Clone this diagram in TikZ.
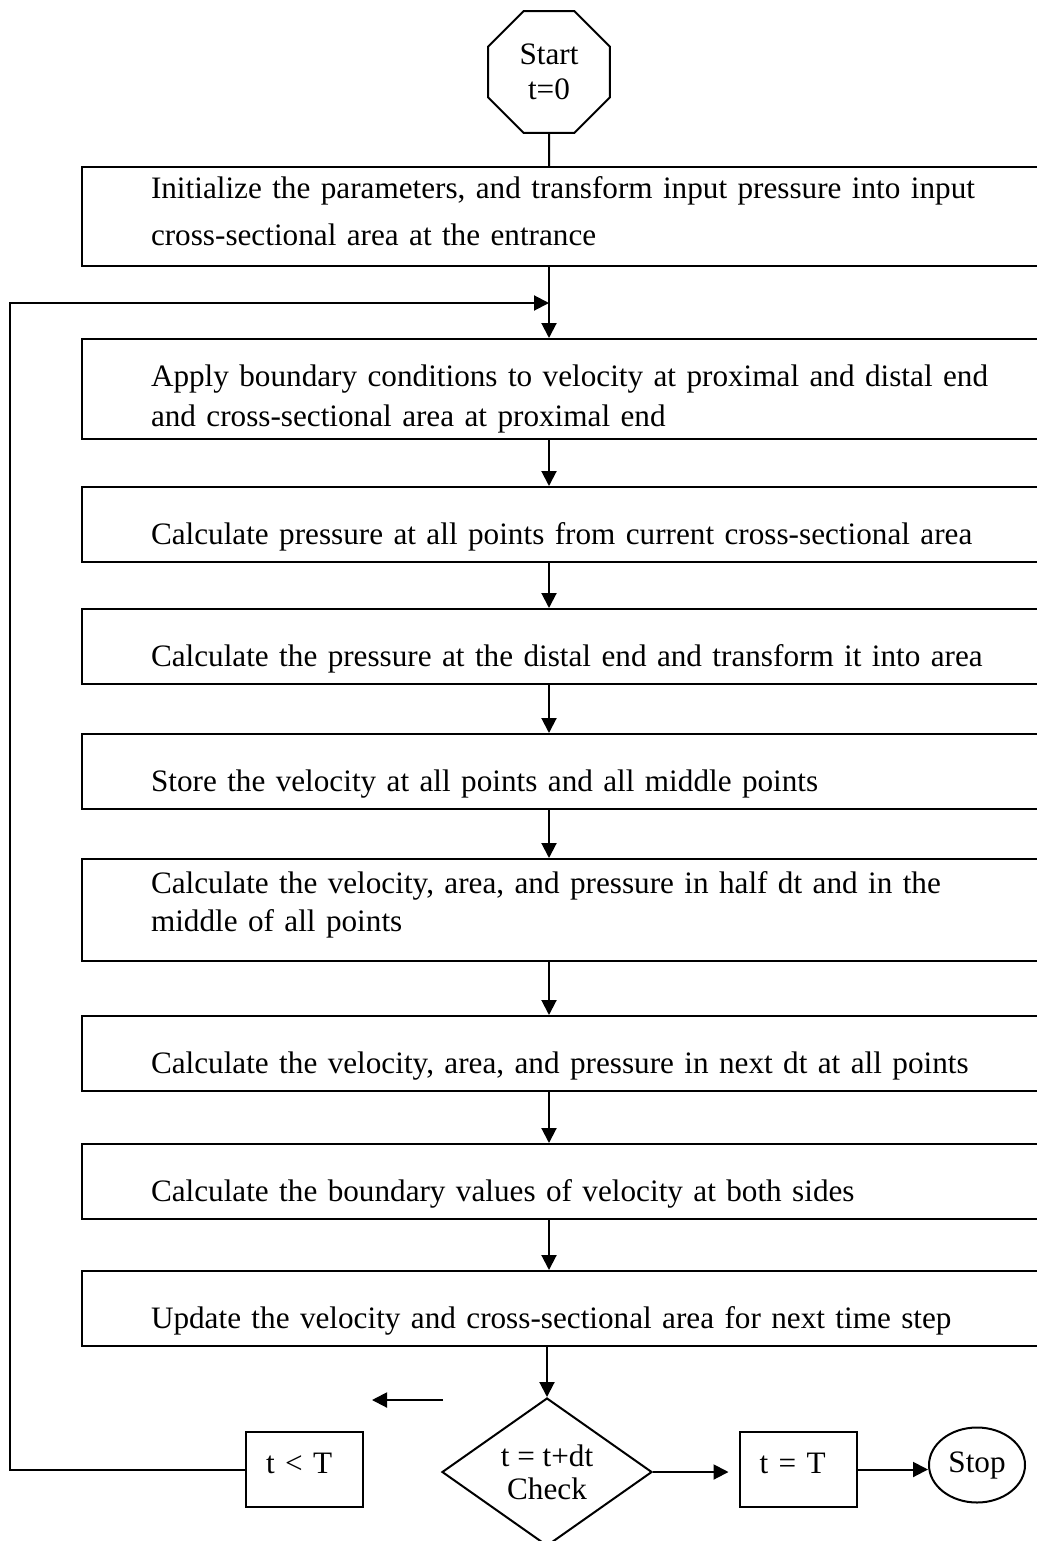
\documentclass[tikz,border=0pt]{standalone}
\usepackage{fontspec}
\setmainfont{Liberation Serif}
\usepackage{tikz}
\usetikzlibrary{positioning}
\usetikzlibrary{shapes.geometric,arrows.meta}
\tikzset{flowbox/.style={draw, line width=1pt, rectangle, anchor=north west, minimum width=500pt, text width=431pt, inner xsep=34.5pt, inner ysep=0pt, align=left, font=\fontsize{15.6pt}{20pt}\selectfont}}
\tikzset{oneline/.style={flowbox, text height=28.5pt, text depth=9pt}}
\tikzset{smallbox/.style={draw, line width=1pt, rectangle, text width=38.5pt, inner xsep=10pt, inner ysep=0pt, text height=20.5pt, text depth=17pt, align=left, font=\fontsize{15.6pt}{20pt}\selectfont}}
\tikzset{flowarrow/.style={line width=1pt, -{Triangle[length=7.5pt,width=7.5pt]}}}

\begin{document}
\begin{tikzpicture}[x=0.5pt,y=-0.5pt]
\useasboundingbox (0,0) rectangle (1037,1541);
\node[draw, line width=1pt, regular polygon, regular polygon sides=8, minimum size=66pt, inner sep=0pt, align=center, font=\fontsize{15.6pt}{17.5pt}\selectfont] (start) at (549,72) {Start\\t=0};
\node[flowbox, text height=15.5pt, text depth=34pt] (init) at (81,166) {Initialize the parameters, and transform input pressure into input\\[4pt]cross-sectional area at the entrance};
\node[flowbox, text height=23.5pt, text depth=26.5pt] (apply) at (81,338) {Apply boundary conditions to velocity at proximal and distal end\\and cross-sectional area at proximal end};
\node[oneline] (press) at (81,486) {Calculate pressure at all points from current cross-sectional area};
\node[oneline] (distal) at (81,608) {Calculate the pressure at the distal end and transform it into area};
\node[oneline] (store) at (81,733) {Store the velocity at all points and all middle points};
\node[flowbox, text height=17pt, text depth=34pt] (half) at (81,858) {Calculate the velocity, area, and pressure in half dt and in the\\[-1pt]middle of all points};
\node[oneline] (next) at (81,1015) {Calculate the velocity, area, and pressure in next dt at all points};
\node[oneline] (bound) at (81,1143) {Calculate the boundary values of velocity at both sides};
\node[oneline] (update) at (81,1270) {Update the velocity and cross-sectional area for next time step};

\node[draw, line width=1pt, diamond, aspect=1.42, minimum width=105pt, minimum height=74pt, inner sep=0pt, align=center, font=\fontsize{15.6pt}{16.5pt}\selectfont] (check) at (547,1472) {t = t+dt\\Check};
\node[smallbox] (less) at (304.5,1469.5) {t < T};
\node[smallbox] (equal) at (798,1469.5) {t = T};
\node[draw, line width=1pt, ellipse, minimum width=48pt, minimum height=37.5pt, inner sep=0pt, font=\fontsize{15.6pt}{20pt}\selectfont] (stop) at (977,1465) {Stop};

\draw[line width=1pt] (start.south) -- (init.north -| start);
\foreach \a/\b in {init/apply, apply/press, press/distal, distal/store, store/half, half/next, next/bound, bound/update}
  \draw[flowarrow] (\a.south -| start) -- (\b.north -| start);
\draw[flowarrow] (update.south -| check) -- (check.north);

% loop back for t < T
\coordinate (loopcorner) at (10,303);
\draw[flowarrow] (less.west) -| (loopcorner) -- (loopcorner -| start);
\coordinate (leftfrom) at (443,1400);
\coordinate (leftto) at (372,1400);
\draw[flowarrow] (leftfrom) -- (leftto);

\draw[flowarrow, shorten >=5pt] (check.east) -- (check.east -| equal.west);
\draw[flowarrow] (equal.east) -- (equal.east -| stop.west);
\end{tikzpicture}
\end{document}
